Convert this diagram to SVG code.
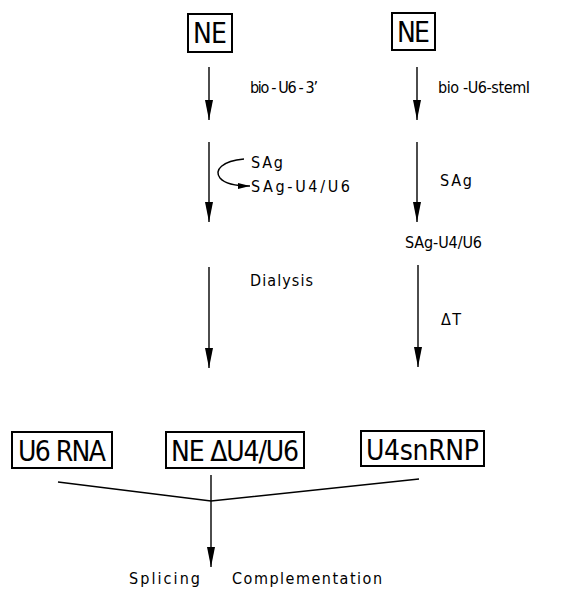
<svg xmlns="http://www.w3.org/2000/svg" width="571" height="590" viewBox="0 0 571 590">
  <style>
    .box { fill: #fff; stroke: #000; stroke-width: 2; }
    .big { font-family: "DejaVu Sans Condensed", "DejaVu Sans", "Liberation Sans", sans-serif; font-stretch: condensed; font-size: 28px; fill: #000; text-anchor: middle; }
    .lbl { font-family: "DejaVu Sans Condensed", "DejaVu Sans", "Liberation Sans", sans-serif; font-stretch: condensed; font-size: 16px; fill: #000; }
    .ln { stroke: #000; stroke-width: 1.4; fill: none; }
  </style>
  <defs>
    <marker id="headBig" viewBox="0 0 20 8" refX="20" refY="4" markerWidth="20" markerHeight="8" markerUnits="userSpaceOnUse" orient="auto">
      <path d="M0,0 L20,4 L0,8 Z" fill="#000"/>
    </marker>
    <marker id="headSmall" viewBox="0 0 12 6" refX="12" refY="3" markerWidth="12" markerHeight="6" markerUnits="userSpaceOnUse" orient="auto">
      <path d="M0,0 L12,3 L0,6 Z" fill="#000"/>
    </marker>
  </defs>

  <!-- starting extracts -->
  <g id="ne-left">
    <rect class="box" x="188" y="14" width="44" height="38"/>
    <text class="big" x="210" y="43" textLength="34">NE</text>
  </g>
  <g id="ne-right">
    <rect class="box" x="392" y="13" width="43" height="37"/>
    <text class="big" x="413.5" y="42" textLength="33">NE</text>
  </g>

  <!-- bottom components -->
  <g id="u6-rna">
    <rect class="box" x="12" y="432" width="100" height="36"/>
    <text class="big" x="62" y="461" font-size="32" textLength="88">U6 RNA</text>
  </g>
  <g id="ne-delta">
    <rect class="box" x="166" y="432" width="138" height="36"/>
    <text class="big" x="235" y="461" font-size="32" textLength="128">NE ΔU4/U6</text>
  </g>
  <g id="u4-snrnp">
    <rect class="box" x="361" y="431" width="123" height="35"/>
    <text class="big" x="422.5" y="460" font-size="32" textLength="113">U4snRNP</text>
  </g>

  <!-- step labels -->
  <g id="labels">
    <text class="lbl" x="250" y="93" textLength="68">bio - U6 - 3’</text>
    <text class="lbl" x="438" y="93" textLength="92">bio -U6-stemI</text>
    <text class="lbl" x="251" y="168" textLength="32">SAg</text>
    <text class="lbl" x="251" y="192" textLength="99">SAg-U4/U6</text>
    <text class="lbl" x="440" y="186" textLength="32">SAg</text>
    <text class="lbl" x="405" y="248" textLength="77">SAg-U4/U6</text>
    <text class="lbl" x="250" y="286" textLength="63">Dialysis</text>
    <text class="lbl" x="441" y="325" textLength="20">ΔT</text>
    <text class="lbl" x="129" y="584" font-size="17" textLength="71">Splicing</text>
    <text class="lbl" x="232" y="584" font-size="17" textLength="150">Complementation</text>
  </g>

  <!-- connectors -->
  <g id="connectors">
    <line class="ln" x1="209" y1="67" x2="209" y2="120" marker-end="url(#headBig)"/>
    <line class="ln" x1="417" y1="67" x2="417" y2="120" marker-end="url(#headBig)"/>
    <line class="ln" x1="209" y1="142" x2="209" y2="222" marker-end="url(#headBig)"/>
    <line class="ln" x1="417" y1="142" x2="417" y2="222" marker-end="url(#headBig)"/>
    <line class="ln" x1="209" y1="267" x2="209" y2="368" marker-end="url(#headBig)"/>
    <line class="ln" x1="418" y1="265" x2="418" y2="367" marker-end="url(#headBig)"/>
    <path class="ln" d="M244,159 C222,161 214,170 220,178 C225,184 236,186 250,186" marker-end="url(#headSmall)"/>
    <polyline class="ln" points="58,482 211,501 419,479"/>
    <line class="ln" x1="211" y1="475" x2="211" y2="567" marker-end="url(#headBig)"/>
  </g>
</svg>
